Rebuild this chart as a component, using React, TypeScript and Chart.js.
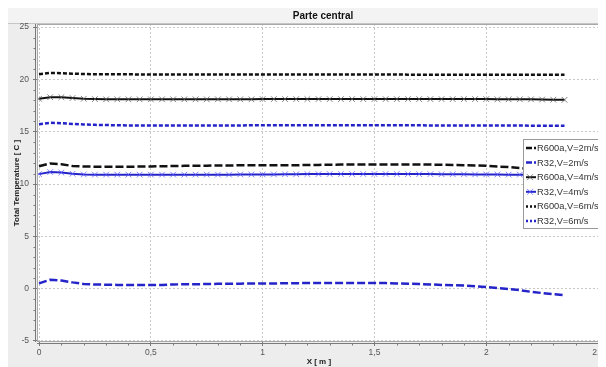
import { useEffect, useRef } from "react";
import { Chart, registerables } from "chart.js";

Chart.register(...registerables);

const TITLE = "Parte central";
const X_LABEL = "X [ m ]";
const Y_LABEL = "Total Temperature [ C ]";

const xValues = [
  0, 0.05, 0.1, 0.15, 0.2, 0.25, 0.3, 0.35,
  0.4, 0.45, 0.5, 0.55, 0.6, 0.65, 0.7, 0.75,
  0.8, 0.85, 0.9, 0.95, 1.0, 1.05, 1.1, 1.15,
  1.2, 1.25, 1.3, 1.35, 1.4, 1.45, 1.5, 1.55,
  1.6, 1.65, 1.7, 1.75, 1.8, 1.85, 1.9, 1.95,
  2.0, 2.05, 2.1, 2.15, 2.2, 2.25, 2.3, 2.35,
];

const r600a2 = [
  11.7, 11.97, 11.9, 11.72, 11.68, 11.66, 11.66, 11.66,
  11.66, 11.67, 11.68, 11.7, 11.72, 11.74, 11.75, 11.76,
  11.78, 11.78, 11.79, 11.8, 11.8, 11.8, 11.8, 11.8,
  11.82, 11.83, 11.85, 11.86, 11.87, 11.88, 11.88, 11.88,
  11.88, 11.88, 11.87, 11.86, 11.84, 11.82, 11.8, 11.78,
  11.74, 11.68, 11.62, 11.54, 11.46, 11.38, 11.3, 11.22,
];

const r32_2 = [
  0.5, 0.85, 0.78, 0.6, 0.45, 0.4, 0.38, 0.36,
  0.36, 0.36, 0.35, 0.36, 0.4, 0.42, 0.42, 0.45,
  0.46, 0.47, 0.48, 0.49, 0.5, 0.5, 0.51, 0.52,
  0.54, 0.55, 0.55, 0.55, 0.55, 0.55, 0.54, 0.53,
  0.5, 0.48, 0.45, 0.4, 0.36, 0.33, 0.29, 0.22,
  0.16, 0.07, -0.03, -0.15, -0.3, -0.42, -0.53, -0.63,
];

const r600a4 = [
  18.15, 18.3, 18.3, 18.22, 18.15, 18.12, 18.1, 18.1,
  18.1, 18.1, 18.1, 18.1, 18.1, 18.1, 18.1, 18.1,
  18.1, 18.1, 18.1, 18.1, 18.12, 18.12, 18.12, 18.12,
  18.12, 18.12, 18.12, 18.12, 18.12, 18.12, 18.12, 18.12,
  18.12, 18.12, 18.12, 18.12, 18.12, 18.12, 18.12, 18.12,
  18.12, 18.1, 18.1, 18.1, 18.1, 18.08, 18.06, 18.05,
];

const r32_4 = [
  10.95, 11.15, 11.1, 10.98, 10.92, 10.9, 10.9, 10.9,
  10.9, 10.9, 10.9, 10.9, 10.9, 10.9, 10.9, 10.9,
  10.9, 10.9, 10.92, 10.92, 10.92, 10.92, 10.94, 10.94,
  10.95, 10.95, 10.96, 10.96, 10.96, 10.96, 10.96, 10.96,
  10.96, 10.95, 10.95, 10.95, 10.94, 10.94, 10.93, 10.92,
  10.92, 10.92, 10.9, 10.9, 10.88, 10.87, 10.86, 10.85,
];

const r600a6 = [
  20.5, 20.62, 20.6, 20.55, 20.52, 20.5, 20.5, 20.49,
  20.49, 20.48, 20.48, 20.48, 20.48, 20.48, 20.48, 20.48,
  20.48, 20.48, 20.48, 20.48, 20.48, 20.48, 20.48, 20.47,
  20.47, 20.47, 20.47, 20.47, 20.47, 20.47, 20.47, 20.47,
  20.47, 20.46, 20.46, 20.46, 20.46, 20.46, 20.46, 20.46,
  20.46, 20.46, 20.45, 20.45, 20.45, 20.45, 20.45, 20.45,
];

const r32_6 = [
  15.72, 15.85, 15.82, 15.75, 15.7, 15.66, 15.64, 15.62,
  15.6, 15.6, 15.6, 15.6, 15.6, 15.6, 15.6, 15.6,
  15.6, 15.6, 15.6, 15.62, 15.62, 15.62, 15.62, 15.62,
  15.62, 15.62, 15.62, 15.62, 15.62, 15.62, 15.62, 15.62,
  15.62, 15.62, 15.62, 15.6, 15.6, 15.6, 15.6, 15.6,
  15.6, 15.6, 15.6, 15.6, 15.58, 15.58, 15.58, 15.57,
];

const seriesLabels = [
  "R600a,V=2m/s",
  "R32,V=2m/s",
  "R600a,V=4m/s",
  "R32,V=4m/s",
  "R600a,V=6m/s",
  "R32,V=6m/s",
];

const xTicks = [0, 0.5, 1, 1.5, 2, 2.5];
const yTicks = [-5, 0, 5, 10, 15, 20, 25];

const BLACK = "#111111";
const BLUE = "#2424c8";
const FONT = "'Liberation Sans', Arial, sans-serif";

type Kind = "dash" | "cross" | "dot";

const styles: { color: string; kind: Kind; marker: string }[] = [
  { color: BLACK, kind: "dash", marker: "" },
  { color: BLUE, kind: "dash", marker: "" },
  { color: BLACK, kind: "cross", marker: "rgba(90,90,90,0.75)" },
  { color: BLUE, kind: "cross", marker: "rgba(90,90,255,0.75)" },
  { color: BLACK, kind: "dot", marker: "" },
  { color: BLUE, kind: "dot", marker: "" },
];

const seriesValues = [r600a2, r32_2, r600a4, r32_4, r600a6, r32_6];

function dashFor(kind: Kind): number[] {
  if (kind === "dash") return [8, 3];
  if (kind === "dot") return [4, 2];
  return [];
}

const decoPlugin = {
  id: "deco",
  beforeDraw(chart: any) {
    const { ctx, width, height, chartArea } = chart;
    ctx.save();
    ctx.fillStyle = "#ededed";
    ctx.fillRect(0, 0, width, height);
    ctx.fillStyle = "#f3f3f3";
    ctx.fillRect(0, 0, width, 15);
    ctx.strokeStyle = "#c6c6c6";
    ctx.lineWidth = 1;
    ctx.beginPath();
    ctx.moveTo(0, 15.5);
    ctx.lineTo(width, 15.5);
    ctx.stroke();
    ctx.fillStyle = "#ffffff";
    ctx.fillRect(chartArea.left, chartArea.top, chartArea.right - chartArea.left, chartArea.bottom - chartArea.top);
    ctx.fillStyle = "#111";
    ctx.font = `bold 10px ${FONT}`;
    ctx.textAlign = "center";
    ctx.textBaseline = "middle";
    ctx.fillText(TITLE, 315, 8);
    ctx.restore();
  },
  afterDraw(chart: any) {
    const { ctx, chartArea, scales } = chart;
    ctx.save();
    ctx.strokeStyle = "#a8a8a8";
    ctx.lineWidth = 1;
    ctx.strokeRect(chartArea.left + 0.5, chartArea.top + 0.5, chartArea.right - chartArea.left - 1, chartArea.bottom - chartArea.top - 1);
    ctx.strokeStyle = "#7a7a7a";
    ctx.beginPath();
    ctx.moveTo(chartArea.left - 1.5, chartArea.top);
    ctx.lineTo(chartArea.left - 1.5, chartArea.bottom);
    ctx.moveTo(chartArea.left, chartArea.bottom + 1.5);
    ctx.lineTo(chartArea.right, chartArea.bottom + 1.5);
    ctx.stroke();
    ctx.strokeStyle = "#7a7a7a";
    ctx.beginPath();
    for (let v = -5; v <= 25; v += 1) {
      if (v % 5 === 0) continue;
      const y = Math.round(scales.y.getPixelForValue(v)) + 0.5;
      ctx.moveTo(chartArea.left - 3.5, y);
      ctx.lineTo(chartArea.left - 1.5, y);
    }
    for (let i = 1; i < 25; i++) {
      if (i % 5 === 0) continue;
      const x = Math.round(scales.x.getPixelForValue(i / 10)) + 0.5;
      ctx.moveTo(x, chartArea.bottom + 1.5);
      ctx.lineTo(x, chartArea.bottom + 3.5);
    }
    ctx.stroke();

    // legend
    const lx = 515;
    const ly = 131;
    const lw = 90;
    const lh = 89;
    ctx.fillStyle = "#ffffff";
    ctx.fillRect(lx, ly, lw, lh);
    ctx.strokeStyle = "#9a9a9a";
    ctx.strokeRect(lx + 0.5, ly + 0.5, lw, lh);
    ctx.font = `9.3px ${FONT}`;
    ctx.textAlign = "left";
    ctx.textBaseline = "middle";
    seriesLabels.forEach((label, i) => {
      const st = styles[i];
      const cy = ly + 9 + i * 14.6;
      const sx = lx + 3;
      ctx.save();
      ctx.strokeStyle = st.color;
      ctx.lineWidth = st.kind === "cross" ? 2 : 2.5;
      if (st.kind === "dash") ctx.setLineDash([6, 2]);
      if (st.kind === "dot") ctx.setLineDash([2, 2]);
      ctx.beginPath();
      ctx.moveTo(sx, cy);
      ctx.lineTo(sx + 10, cy);
      ctx.stroke();
      if (st.kind === "cross") {
        ctx.setLineDash([]);
        ctx.lineWidth = 1;
        ctx.strokeStyle = st.marker;
        ctx.beginPath();
        ctx.moveTo(sx + 1, cy - 3);
        ctx.lineTo(sx + 7, cy + 3);
        ctx.moveTo(sx + 1, cy + 3);
        ctx.lineTo(sx + 7, cy - 3);
        ctx.stroke();
      }
      ctx.restore();
      ctx.fillStyle = "#333";
      ctx.fillText(label, sx + 11, cy + 0.5);
    });
    ctx.restore();
  },
};

export default function App() {
  const ref = useRef<HTMLCanvasElement | null>(null);

  useEffect(() => {
    if (!ref.current) return;
    const datasets = seriesLabels.map((label, i) => {
      const st = styles[i];
      return {
        label,
        data: xValues.map((x, j) => ({ x, y: seriesValues[i][j] })),
        borderColor: st.color,
        backgroundColor: st.color,
        borderWidth: st.kind === "cross" ? 2 : 2.5,
        borderDash: dashFor(st.kind),
        pointRadius: st.kind === "cross" ? 4 : 0,
        pointStyle: "crossRot",
        pointBorderColor: st.marker || st.color,
        pointBorderWidth: 1,
        tension: 0,
        fill: false,
      };
    });

    const chart = new Chart(ref.current, {
      type: "line",
      data: { datasets },
      plugins: [decoPlugin],
      options: {
        animation: false,
        responsive: false,
        maintainAspectRatio: false,
        layout: { padding: { top: 16, left: 0, right: 0, bottom: 0 } },
        plugins: {
          legend: { display: false },
          title: { display: false },
          tooltip: { enabled: false },
        },
        scales: {
          x: {
            type: "linear",
            min: -0.009,
            max: 2.512,
            afterBuildTicks: (s: any) => {
              s.ticks = xTicks.map((v) => ({ value: v }));
            },
            afterFit: (s: any) => {
              s.height = 25;
            },
            grid: { color: "#c8c8c8", tickColor: "#7a7a7a", tickLength: 4, lineWidth: 1 },
            border: { display: false, dash: [2, 2] },
            ticks: {
              autoSkip: false,
              maxRotation: 0,
              padding: 2,
              color: "#555",
              font: { family: FONT, size: 8.5 },
              callback: (v: any) => String(v).replace(".", ","),
            },
            title: {
              display: true,
              text: X_LABEL,
              color: "#222",
              font: { family: FONT, size: 8, weight: "bold" },
              padding: { top: 0, bottom: 0 },
            },
          },
          y: {
            type: "linear",
            min: -5.1,
            max: 25.3,
            afterBuildTicks: (s: any) => {
              s.ticks = yTicks.map((v) => ({ value: v }));
            },
            afterFit: (s: any) => {
              s.width = 29;
            },
            grid: { color: "#c8c8c8", tickColor: "#7a7a7a", tickLength: 4, lineWidth: 1 },
            border: { display: false, dash: [2, 2] },
            ticks: {
              padding: 4,
              color: "#555",
              font: { family: FONT, size: 8.5 },
              callback: (v: any) => String(v),
            },
            title: {
              display: true,
              text: Y_LABEL,
              color: "#222",
              font: { family: FONT, size: 8, weight: "bold" },
              padding: { top: 4, bottom: 0 },
            },
          },
        },
      } as any,
    });
    return () => chart.destroy();
  }, []);

  return <canvas ref={ref} width={598} height={359} style={{ display: "block" }} />;
}
